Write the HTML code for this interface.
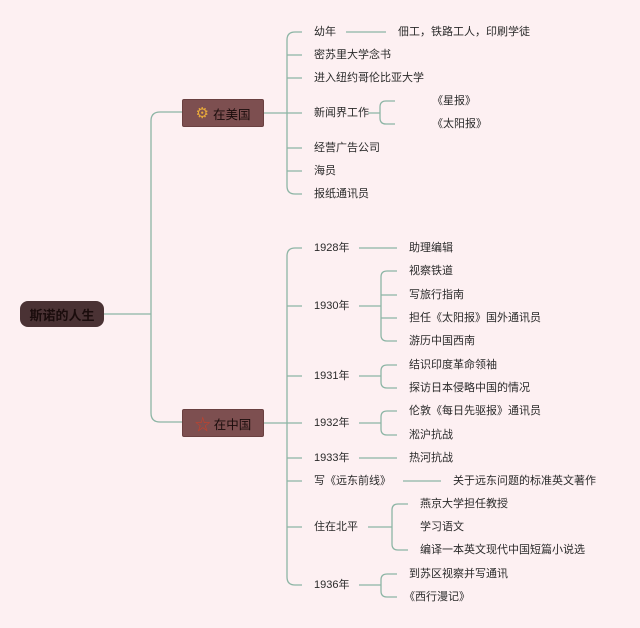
<!DOCTYPE html>
<html><head><meta charset="utf-8"><style>
html,body{margin:0;padding:0;}
body{width:640px;height:628px;background:#fdf0f2;position:relative;overflow:hidden;font-family:"Liberation Sans","Noto Sans CJK SC",sans-serif;}
.t{position:absolute;font-size:11px;color:#2a2a2a;line-height:14px;white-space:nowrap;transform:translateY(-7px);}
.b{position:absolute;background:#7d4f50;border:1px solid #6a4040;border-radius:2px;color:#1a0c0c;font-size:12.5px;display:flex;align-items:center;justify-content:center;}
</style></head><body>
<svg width="640" height="628" style="position:absolute;left:0;top:0" fill="none" stroke="#8db5a5" stroke-width="1.3">
<path d="M104 314H151M160 112H182M160 422H182M151 314V121Q151 112 160 112M151 314V413Q151 422 160 422"/>
<path d="M263 113H287M287 40Q287 32 295 32H302M287 186Q287 194 295 194H302M287 40V186M287 55H302M287 78H302M287 113H302M287 148H302M287 171H302"/>
<path d="M346 32H386M368 113H380M380 107Q380 101 386 101H395M380 118Q380 124 386 124H395M380 107V118"/>
<path d="M263 423H287M287 256Q287 248 295 248H302M287 577Q287 585 295 585H302M287 256V577M287 306H302M287 376H302M287 423H302M287 458H302M287 481H302M287 527H302"/>
<path d="M359 248H397M359 458H397M403 481H441"/>
<path d="M359 306H381M381 277Q381 271 387 271H397M381 335Q381 341 387 341H397M381 277V335M381 295H397M381 318H397"/>
<path d="M359 376H381M381 371Q381 365 387 365H397M381 382Q381 388 387 388H397M381 371V382"/>
<path d="M359 423H381M381 417Q381 411 387 411H397M381 429Q381 435 387 435H397M381 417V429"/>
<path d="M368 527H392M392 510Q392 504 398 504H408M392 544Q392 550 398 550H408M392 510V544"/>
<path d="M359 585H381M381 580Q381 574 387 574H397M381 591Q381 597 387 597H397M381 580V591"/>
</svg>
<div class="b" style="left:20px;top:301px;width:84px;height:26px;background:#4a3234;border:none;border-radius:8px;font-size:13px;font-weight:bold;">斯诺的人生</div>
<div class="b" style="left:182px;top:99px;width:80px;height:26px;"><span style="color:#e8a93a;font-size:15px;margin-right:4px">⚙</span>在美国</div>
<div class="b" style="left:182px;top:409px;width:80px;height:26px;"><span style="color:#c8402a;font-size:16px;margin-right:3px">☆</span>在中国</div>
<div class="t" style="left:314px;top:32px">幼年</div>
<div class="t" style="left:398px;top:32px">佃工，铁路工人，印刷学徒</div>
<div class="t" style="left:314px;top:55px">密苏里大学念书</div>
<div class="t" style="left:314px;top:78px">进入纽约哥伦比亚大学</div>
<div class="t" style="left:314px;top:113px">新闻界工作</div>
<div class="t" style="left:432px;top:101px">《星报》</div>
<div class="t" style="left:432px;top:124px">《太阳报》</div>
<div class="t" style="left:314px;top:148px">经营广告公司</div>
<div class="t" style="left:314px;top:171px">海员</div>
<div class="t" style="left:314px;top:194px">报纸通讯员</div>
<div class="t" style="left:314px;top:248px">1928年</div>
<div class="t" style="left:409px;top:248px">助理编辑</div>
<div class="t" style="left:314px;top:306px">1930年</div>
<div class="t" style="left:409px;top:271px">视察铁道</div>
<div class="t" style="left:409px;top:295px">写旅行指南</div>
<div class="t" style="left:409px;top:318px">担任《太阳报》国外通讯员</div>
<div class="t" style="left:409px;top:341px">游历中国西南</div>
<div class="t" style="left:314px;top:376px">1931年</div>
<div class="t" style="left:409px;top:365px">结识印度革命领袖</div>
<div class="t" style="left:409px;top:388px">探访日本侵略中国的情况</div>
<div class="t" style="left:314px;top:423px">1932年</div>
<div class="t" style="left:409px;top:411px">伦敦《每日先驱报》通讯员</div>
<div class="t" style="left:409px;top:435px">淞沪抗战</div>
<div class="t" style="left:314px;top:458px">1933年</div>
<div class="t" style="left:409px;top:458px">热河抗战</div>
<div class="t" style="left:314px;top:481px">写《远东前线》</div>
<div class="t" style="left:453px;top:481px">关于远东问题的标准英文著作</div>
<div class="t" style="left:314px;top:527px">住在北平</div>
<div class="t" style="left:420px;top:504px">燕京大学担任教授</div>
<div class="t" style="left:420px;top:527px">学习语文</div>
<div class="t" style="left:420px;top:550px">编译一本英文现代中国短篇小说选</div>
<div class="t" style="left:314px;top:585px">1936年</div>
<div class="t" style="left:409px;top:574px">到苏区视察并写通讯</div>
<div class="t" style="left:404px;top:597px">《西行漫记》</div>
</body></html>
